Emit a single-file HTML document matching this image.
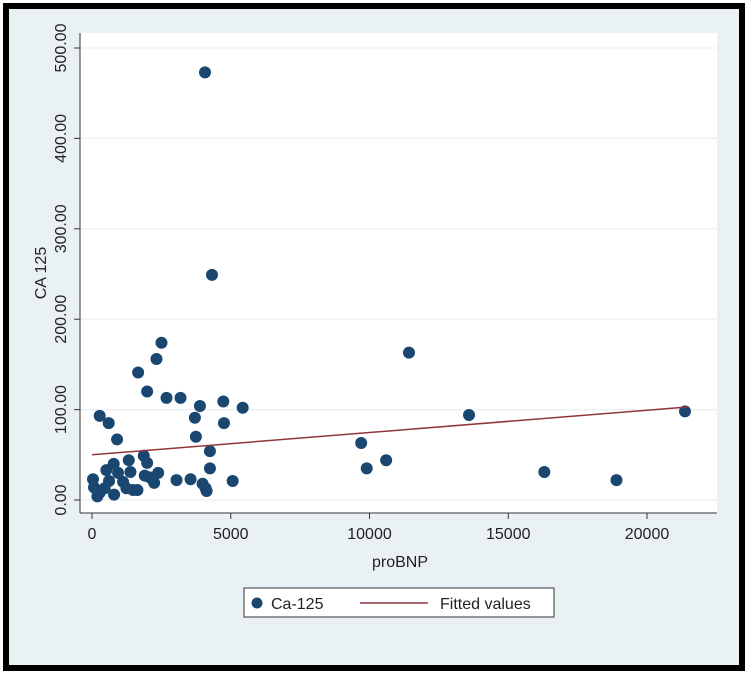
<!DOCTYPE html>
<html><head><meta charset="utf-8"><style>
html,body{margin:0;padding:0;background:#fff}
svg{display:block;font-family:"Liberation Sans",sans-serif}
</style></head><body>
<svg width="750" height="678" viewBox="0 0 750 678">
<rect x="6" y="6" width="736" height="662" fill="#eaf1f4" stroke="#000" stroke-width="6"/>
<rect x="80" y="33" width="637" height="480" fill="#fff"/>
<g id="grid"></g>
<line x1="80" y1="33" x2="80" y2="513" stroke="#333" stroke-width="1"/>
<line x1="80" y1="513" x2="717" y2="513" stroke="#333" stroke-width="1"/>
<g id="yticks"></g>
<g id="xticks"></g>
<g id="pts"></g>
<g id="fit"></g>
<text x="46" y="273" transform="rotate(-90 46 273)" text-anchor="middle" font-size="16" fill="#222">CA 125</text>
<text x="400" y="567" text-anchor="middle" font-size="16" fill="#222">proBNP</text>
<g>
<rect x="244" y="588" width="310" height="29" fill="#fff" stroke="#333" stroke-width="1"/>
<circle cx="257" cy="603" r="5.5" fill="#1a476f"/>
<text x="271" y="609" font-size="16" fill="#222">Ca-125</text>
<line x1="360" y1="603" x2="428" y2="603" stroke="#90353b" stroke-width="1.5"/>
<text x="440" y="609" font-size="16" fill="#222">Fitted values</text>
</g>
</svg>
<script>
const probnp=[4072,4324,2504,2324,1662,1987,2685,3190,4732,5430,3889,3708,3744,277,602,903,4756,4250,4250,11423,13586,21369,9700,9900,10600,16300,18900,36,72,193,277,457,518,614,783,795,939,1120,1240,1324,1385,1481,1637,1866,1987,1902,2083,2240,2384,3046,3552,3985,4094,4130,5069];
const ca125=[473,249,174,156,141,120,113,113,109,102,104,91,70,93,85,67,85,54,35,163,94,98,63,35,44,31,22,23,14,4,8,13,33,21,40,6,30,20,13,44,31,11,11,49,41,27,25,19,30,22,23,18,13,10,21];
const fitX=[0,21500];
const fitY=[50,103];
const yTicks=[0,100,200,300,400,500];
const yTickLabels=["0.00","100.00","200.00","300.00","400.00","500.00"];
const xTicks=[0,5000,10000,15000,20000];
const xTickLabels=["0","5000","10000","15000","20000"];
const NS="http://www.w3.org/2000/svg";
function sx(v){return 92+v*(555/20000);}
function sy(v){return 500-v*(452/500);}
function mk(t,a,p){const e=document.createElementNS(NS,t);for(const k in a)e.setAttribute(k,a[k]);p.appendChild(e);return e;}
const grid=document.getElementById('grid'),yt=document.getElementById('yticks'),xt=document.getElementById('xticks'),pts=document.getElementById('pts'),fit=document.getElementById('fit');
yTicks.forEach((v,i)=>{
 const g=mk('line',{x1:80,x2:717,y1:sy(v),y2:sy(v),stroke:'#eaf0f2','stroke-width':1.2},grid);
 
 
 const t=mk('line',{x1:74,x2:80,y1:sy(v),y2:sy(v),stroke:'#333'},yt);
 
 
 const x=66,y=sy(v);
 const l=mk('text',{x:x,y:y,transform:`rotate(-90 ${x} ${y})`,'text-anchor':'middle','font-size':16,fill:'#222'},yt);
 l.textContent=yTickLabels[i];
 
 
});
xTicks.forEach((v,i)=>{
 const t=mk('line',{x1:sx(v),x2:sx(v),y1:513,y2:519,stroke:'#333'},xt);
 
 
 const l=mk('text',{x:sx(v),y:539,'text-anchor':'middle','font-size':16,fill:'#222'},xt);
 l.textContent=xTickLabels[i];
 
 
});
probnp.forEach((v,i)=>{
 const c=mk('circle',{cx:sx(v),cy:sy(ca125[i]),r:6,fill:'#1a476f'},pts);
 
 
});
const fl=mk('line',{x1:sx(fitX[0]),y1:sy(fitY[0]),x2:sx(fitX[1]),y2:sy(fitY[1]),stroke:'#90353b','stroke-width':1.5},fit);


</script>
</body></html>
